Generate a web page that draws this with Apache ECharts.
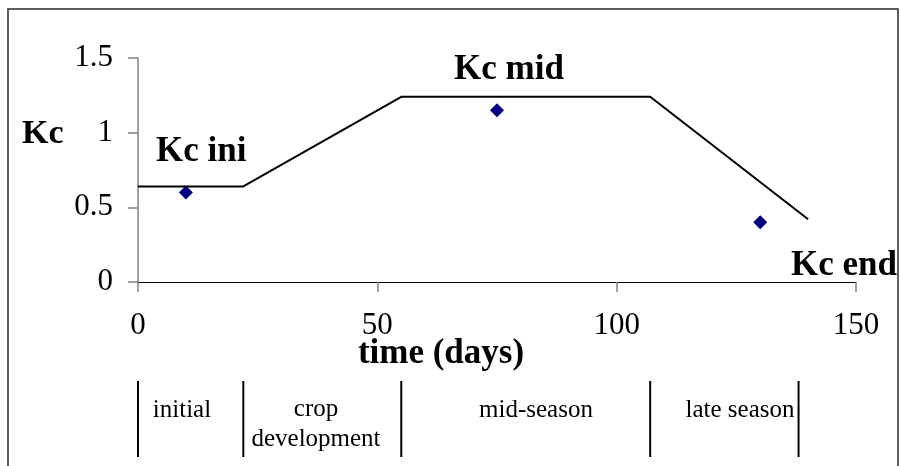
<!DOCTYPE html>
<html>
<head>
<meta charset="utf-8">
<script src="https://cdn.jsdelivr.net/npm/echarts@6/dist/echarts.min.js"></script>
<style>
  html, body { margin: 0; padding: 0; background: #fff; }
  #chart { width: 900px; height: 466px; }
</style>
</head>
<body>
<div id="chart"></div>
<script>
// Kc curve (time in days, Kc)
const curveDays = [0, 22, 55, 107, 140];
const curveKc = [0.64, 0.64, 1.24, 1.24, 0.42];
// measured points
const pointDays = [10, 75, 130];
const pointKc = [0.6, 1.15, 0.4];
// growth stage boundaries and names
const stageBounds = [0, 22, 55, 107, 138];
const stageNames = ['initial', 'crop\ndevelopment', 'mid-season', 'late season'];

const serif = "'Liberation Serif', 'Times New Roman', serif";

const chart = echarts.init(document.getElementById('chart'));

const curveData = curveDays.map((d, i) => [d, curveKc[i]]);
const pointData = pointDays.map((d, i) => [d, pointKc[i]]);

const option = {
  animation: false,
  grid: [
    { left: 138, top: 58, width: 718, height: 224 },
    { left: 138, top: 381, width: 718, height: 76 }
  ],
  xAxis: [
    {
      type: 'value',
      gridIndex: 0,
      min: 0,
      max: 150,
      interval: 50,
      splitLine: { show: false },
      axisLine: { onZero: false, lineStyle: { color: '#000', width: 1 } },
      axisTick: { show: true, length: 10, lineStyle: { color: '#808080', width: 1.5 } },
      axisLabel: { color: '#000', fontFamily: serif, fontSize: 31, margin: 28 }
    },
    { type: 'value', gridIndex: 1, min: 0, max: 150, show: false }
  ],
  yAxis: [
    {
      type: 'value',
      gridIndex: 0,
      min: 0,
      max: 1.5,
      interval: 0.5,
      splitLine: { show: false },
      axisLine: { show: true, lineStyle: { color: '#808080', width: 1.5 } },
      axisTick: { show: true, length: 10, lineStyle: { color: '#808080', width: 1.5 } },
      axisLabel: { color: '#000', fontFamily: serif, fontSize: 31, margin: 25 }
    },
    { type: 'value', gridIndex: 1, min: 0, max: 1, show: false }
  ],
  series: [
    {
      name: 'Kc curve',
      type: 'line',
      xAxisIndex: 0,
      yAxisIndex: 0,
      data: curveData,
      symbol: 'none',
      lineStyle: { color: '#000', width: 2 }
    },
    {
      name: 'Kc measured',
      type: 'scatter',
      xAxisIndex: 0,
      yAxisIndex: 0,
      data: pointData,
      symbol: 'diamond',
      symbolSize: 14,
      itemStyle: { color: '#000080', opacity: 1 }
    },
    {
      name: 'stages',
      type: 'custom',
      xAxisIndex: 1,
      yAxisIndex: 1,
      data: stageBounds.map(d => [d]),
      renderItem: function (params, api) {
        const p1 = api.coord([api.value(0), 0]);
        const p2 = api.coord([api.value(0), 1]);
        return {
          type: 'line',
          shape: { x1: p1[0], y1: p1[1], x2: p2[0], y2: p2[1] },
          style: { stroke: '#000', lineWidth: 2 }
        };
      }
    }
  ],
  graphic: [
    {
      type: 'rect',
      shape: { x: 8, y: 9, width: 890, height: 470 },
      style: { fill: 'none', stroke: '#2a2a2a', lineWidth: 1.5 },
      silent: true
    },
    { type: 'text', x: 22, y: 134, style: { text: 'Kc', font: 'bold 34px ' + serif, fill: '#000', verticalAlign: 'middle' } },
    { type: 'text', x: 156, y: 152, style: { text: 'Kc ini', font: 'bold 35px ' + serif, fill: '#000', verticalAlign: 'middle' } },
    { type: 'text', x: 454, y: 70, style: { text: 'Kc mid', font: 'bold 35px ' + serif, fill: '#000', verticalAlign: 'middle' } },
    { type: 'text', x: 791, y: 266, style: { text: 'Kc end', font: 'bold 35px ' + serif, fill: '#000', verticalAlign: 'middle' } },
    { type: 'text', x: 441, y: 354, style: { text: 'time (days)', font: 'bold 35px ' + serif, fill: '#000', align: 'center', verticalAlign: 'middle' } },
    { type: 'text', x: 182, y: 410, style: { text: stageNames[0], font: '25px ' + serif, fill: '#000', align: 'center', verticalAlign: 'middle' } },
    { type: 'text', x: 316, y: 424, style: { text: stageNames[1], font: '25px ' + serif, fill: '#000', align: 'center', verticalAlign: 'middle', lineHeight: 30 } },
    { type: 'text', x: 536, y: 410, style: { text: stageNames[2], font: '25px ' + serif, fill: '#000', align: 'center', verticalAlign: 'middle' } },
    { type: 'text', x: 740, y: 410, style: { text: stageNames[3], font: '25px ' + serif, fill: '#000', align: 'center', verticalAlign: 'middle' } }
  ]
};

chart.setOption(option);
</script>
</body>
</html>
